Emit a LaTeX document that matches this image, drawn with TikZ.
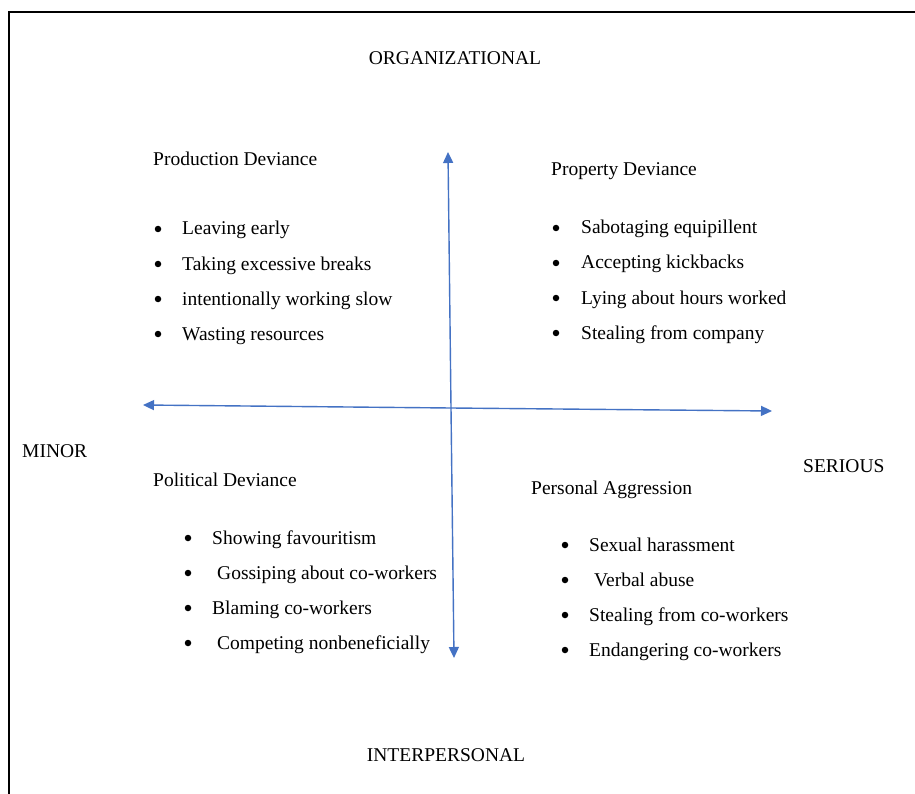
\documentclass[tikz,border=0pt]{standalone}
\usepackage{fontspec}
\setmainfont{Liberation Serif}
\usetikzlibrary{arrows.meta}
\definecolor{axisblue}{HTML}{4472C4}
\tikzset{
  lbl/.style={anchor=base west, inner sep=0pt, font=\fontsize{19.5}{23}\selectfont},
  clbl/.style={anchor=base, inner sep=0pt, font=\fontsize{19.5}{23}\selectfont},
  bul/.style={circle, fill=black, inner sep=0pt, minimum size=6.5pt},
  axis/.style={draw=axisblue, line width=1.4pt, -{Triangle[length=11pt,width=10pt]}},
  frame/.style={draw=black, line width=1.6pt}
}
\begin{document}
\begin{tikzpicture}[x=1pt,y=-1pt]
\useasboundingbox (0,0) rectangle (915,794);
\fill[white] (0,0) rectangle (915,794);
\draw[frame] (9,794) -- (9,12) -- (915,12);

% axis labels
\node[clbl] (org) at (455,65) {ORGANIZATIONAL};
\node[clbl] (inter) at (446,761) {INTERPERSONAL};
\node[lbl] (minor) at (22,457) {MINOR};
\node[lbl] (serious) at (803,472) {SERIOUS};

% axes
\coordinate (vtop) at (448,152);
\coordinate (vbot) at (454,658);
\coordinate (hleft) at (143,405);
\coordinate (hright) at (772,411);
\coordinate (hmid) at (451,408);
\draw[axis] (hmid) -- (vtop);
\draw[axis] (hmid) -- (vbot);
\draw[axis] (hmid) -- (hleft);
\draw[axis] (hmid) -- (hright);

% Production Deviance
\node[lbl] (prodh) at (153,166) {Production Deviance};
\node[bul] (pb1) at (158,229) {};
\node[lbl] (p1) at (182,235) {Leaving early};
\node[bul] (pb2) at (158,264) {};
\node[lbl] (p2) at (182,270) {Taking excessive breaks};
\node[bul] (pb3) at (158,299) {};
\node[lbl] (p3) at (182,305) {intentionally working slow};
\node[bul] (pb4) at (158,334) {};
\node[lbl] (p4) at (182,340) {Wasting resources};

% Property Deviance
\node[lbl] (proph) at (551,176) {Property Deviance};
\node[bul] (qb1) at (556,228) {};
\node[lbl] (q1) at (581,234) {Sabotaging equipillent};
\node[bul] (qb2) at (556,263) {};
\node[lbl] (q2) at (581,269) {Accepting kickbacks};
\node[bul] (qb3) at (556,298) {};
\node[lbl] (q3) at (581,304) {Lying about hours worked};
\node[bul] (qb4) at (556,333) {};
\node[lbl] (q4) at (581,339) {Stealing from company};

% Political Deviance
\node[lbl] (polh) at (153,486) {Political Deviance};
\node[bul] (lb1) at (188,538) {};
\node[lbl] (l1) at (212,544) {Showing favouritism};
\node[bul] (lb2) at (188,573) {};
\node[lbl] (l2) at (217,579) {Gossiping about co-workers};
\node[bul] (lb3) at (188,608) {};
\node[lbl] (l3) at (212,614) {Blaming co-workers};
\node[bul] (lb4) at (188,643) {};
\node[lbl] (l4) at (217,649) {Competing nonbeneficially};

% Personal Aggression
\node[bul] (rb1) at (565,545) {};
\node[lbl] (perh) at (531,494) {Personal Aggression};
\node[lbl] (r1) at (589,551) {Sexual harassment};
\node[bul] (rb2) at (565,580) {};
\node[lbl] (r2) at (594,586) {Verbal abuse};
\node[bul] (rb3) at (565,615) {};
\node[lbl] (r3) at (589,621) {Stealing from co-workers};
\node[bul] (rb4) at (565,650) {};
\node[lbl] (r4) at (589,656) {Endangering co-workers};
\end{tikzpicture}
\end{document}
